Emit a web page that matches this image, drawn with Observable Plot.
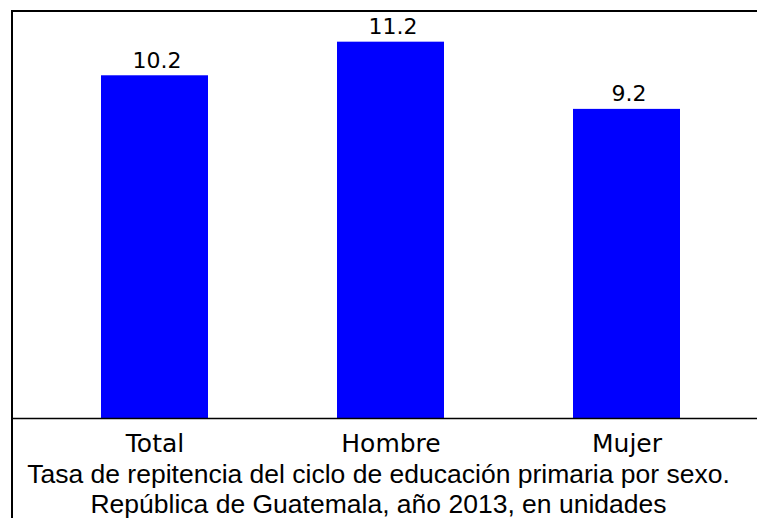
<!DOCTYPE html>
<html>
<head>
<meta charset="utf-8">
<script src="https://cdn.jsdelivr.net/npm/d3@7"></script>
<script src="https://cdn.jsdelivr.net/npm/@observablehq/plot@0.6"></script>
<style>
  html, body { margin: 0; padding: 0; background: #fff; }
  #wrap { position: relative; width: 757px; height: 518px; overflow: hidden; background: #fff; }
  #frame { position: absolute; left: 11px; top: 10px; width: 800px; height: 600px;
           border-left: 2px solid #000; border-top: 2px solid #000; box-sizing: border-box; pointer-events: none; }
  #caption { position: absolute; left: 0; width: 757px; top: 459px; text-align: center; white-space: nowrap;
             font-family: "Liberation Sans", Arial, sans-serif; font-size: 26.5px; line-height: 30px; color: #000; }
</style>
</head>
<body>
<div id="wrap">
  <div id="chart"></div>
  <div id="frame"></div>
  <div id="caption">Tasa de repitencia del ciclo de educación primaria por sexo.<br>República de Guatemala, año 2013, en unidades</div>
</div>
<script>
const categories = ["Total", "Hombre", "Mujer"];
const values = [10.2, 11.2, 9.2];
const valueLabels = ["10.2", "11.2", "9.2"];

const data = categories.map((c, i) => ({cat: c, value: values[i], label: valueLabels[i]}));

const chart = Plot.plot({
  width: 757,
  height: 518,
  marginLeft: 12,
  marginRight: 0,
  marginTop: 14.8,
  marginBottom: 100,
  style: {background: "transparent", overflow: "visible"},
  x: {domain: categories, range: [36.5, 744.5], paddingInner: 0.5466, paddingOuter: 0.2733, label: null},
  y: {domain: [0, 12], axis: null},
  marks: [
    Plot.barY(data, {x: "cat", y: "value", fill: "#0000FF"}),
    Plot.ruleY([0], {stroke: "#000", strokeWidth: 1.5}),
    Plot.text(data, {x: "cat", y: "value", text: "label", dy: -8, dx: 2, lineAnchor: "bottom",
      fontSize: 22, fontFamily: "DejaVu Sans", fill: "#000"}),
    Plot.axisX({tickSize: 0, tickPadding: 16, fontSize: 25, fontFamily: "DejaVu Sans", fill: "#000", label: null})
  ]
});
document.getElementById("chart").appendChild(chart);
</script>
</body>
</html>
